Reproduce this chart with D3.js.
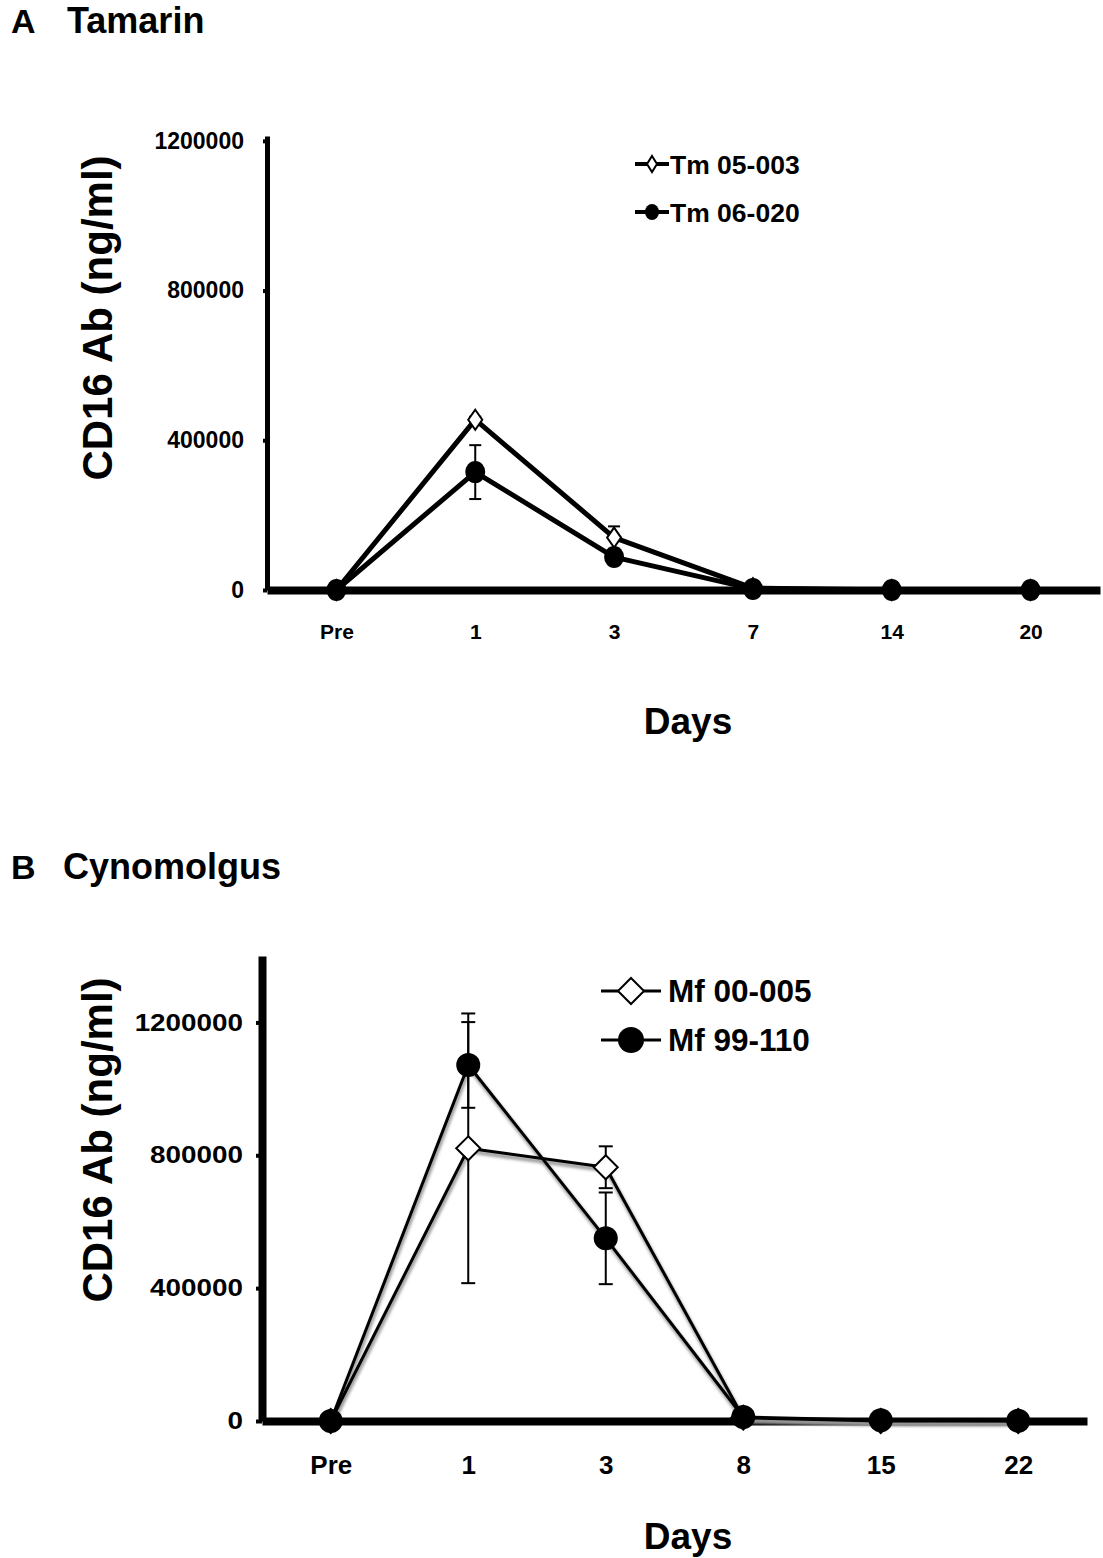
<html>
<head>
  <title>CD16 Ab</title>
  <script src="https://cdn.jsdelivr.net/npm/d3@7"></script>
  <style>
    body { margin: 0; background: #fff; }
    text { font-family: "Liberation Sans", Arial, sans-serif; font-weight: bold; fill: #000; }
  </style>
</head>
<body>
<script>
// Panel A - Tamarin
const daysA = ["Pre", "1", "3", "7", "14", "20"];
const tm05003 = [0, 455000, 140000, 5000, 0, 0];
const tm05003Err = [0, 8000, 30000, 0, 0, 0];
const tm06020 = [0, 315000, 88000, 3000, 0, 0];
const tm06020Err = [0, 72000, 0, 0, 0, 0];

// Panel B - Cynomolgus
const daysB = ["Pre", "1", "3", "8", "15", "22"];
const mf00005 = [0, 821000, 764000, 10000, 0, 0];
const mf00005Err = [0, 406000, 63000, 0, 0, 0];
const mf99110 = [0, 1072000, 550000, 12000, 2000, 1000];
const mf99110Err = [0, 129000, 138000, 0, 0, 0];

const yTicks = [0, 400000, 800000, 1200000];

const w = 1103, h = 1558;
const svg = d3.select("body").append("svg").attr("width", w).attr("height", h);

const defs = svg.append("defs");
defs.append("filter").attr("id", "blur").append("feGaussianBlur").attr("stdDeviation", 1.5);

function panel(o) {
  const g = svg.append("g");

  // titel
  g.append("text").attr("x", o.letterX).attr("y", o.titleY).attr("font-size", 34).text(o.letter);
  g.append("text").attr("x", o.titleX).attr("y", o.titleY).attr("font-size", 36).text(o.title);

  const x = d3.scalePoint().domain(o.days).range([o.x0, o.x1]).padding(0.5);
  const y = d3.scaleLinear().domain([0, o.yMax]).range([o.y0, o.yTop]);

  // y-akse
  const yAxis = d3.axisLeft(y).tickValues(yTicks).tickFormat(d3.format("d"))
    .tickSizeInner(o.tick).tickSizeOuter(0).tickPadding(o.yPad);
  const ya = g.append("g").attr("transform", "translate(" + o.x0 + ",0)").call(yAxis);
  ya.select(".domain").attr("stroke-width", o.yAxisW);
  ya.selectAll(".tick line").attr("stroke-width", 4);
  ya.selectAll(".tick text").attr("font-size", o.yFont).attr("font-family", "Liberation Sans, Arial")
    .attr("transform", "scale(" + o.yStretch + ",1)")
    .attr("x", -(o.tick + o.yPad) / o.yStretch);

  // x-akse
  const xAxis = d3.axisBottom(x).tickSize(0).tickPadding(o.xPad);
  const xa = g.append("g").attr("transform", "translate(0," + o.y0 + ")").call(xAxis);
  xa.select(".domain").attr("stroke-width", 8);
  xa.selectAll(".tick text").attr("font-size", o.xFont).attr("font-family", "Liberation Sans, Arial");

  // akse titler
  g.append("text").attr("transform", "translate(" + o.yTitleX + "," + o.yTitleY + ") rotate(-90)")
    .attr("text-anchor", "middle").attr("font-size", 42).text("CD16 Ab (ng/ml)");
  g.append("text").attr("x", 688).attr("y", o.daysY).attr("text-anchor", "middle")
    .attr("font-size", 37).text("Days");

  const line = d3.line().x((d, i) => x(o.days[i])).y(d => y(d));

  // skygge i B
  if (o.shadow) {
    o.series.forEach(s => {
      g.append("path").datum(s.values).attr("d", line).attr("fill", "none")
        .attr("stroke", "#999").attr("stroke-width", o.lineW + 1)
        .attr("transform", "translate(1,3)").attr("filter", "url(#blur)");
    });
  }

  o.series.forEach(s => {
    g.append("path").datum(s.values).attr("d", line).attr("fill", "none")
      .attr("stroke", "#000").attr("stroke-width", o.lineW).attr("stroke-linejoin", "round");
  });

  // fejlbarer
  o.series.forEach(s => {
    s.values.forEach((v, i) => {
      const e = s.err[i];
      if (!e) return;
      const cx = x(o.days[i]);
      g.append("line").attr("x1", cx).attr("x2", cx).attr("y1", y(v - e)).attr("y2", y(v + e))
        .attr("stroke", "#000").attr("stroke-width", 2);
      [v - e, v + e].forEach(t => {
        g.append("line").attr("x1", cx - o.cap).attr("x2", cx + o.cap).attr("y1", y(t)).attr("y2", y(t))
          .attr("stroke", "#000").attr("stroke-width", 2);
      });
    });
  });

  // markører
  o.series.forEach(s => {
    s.values.forEach((v, i) => drawMarker(g, s.shape, x(o.days[i]), y(v), o));
  });

  // legende
  o.series.forEach((s, k) => {
    const ly = o.legY + k * o.legStep;
    g.append("line").attr("x1", o.legX).attr("x2", o.legX + o.legLen).attr("y1", ly).attr("y2", ly)
      .attr("stroke", "#000").attr("stroke-width", o.legLineW);
    drawMarker(g, s.shape, o.legX + o.legLen / 2, ly, o.legMarker);
    g.append("text").attr("x", o.legX + o.legLen + o.legGap).attr("y", ly + o.legFont * 0.36)
      .attr("font-size", o.legFont).text(s.name);
  });
}

function drawMarker(g, shape, cx, cy, m) {
  if (shape === "circle") {
    g.append("ellipse").attr("cx", cx).attr("cy", cy).attr("rx", m.cr).attr("ry", m.cry)
      .attr("fill", "#000");
  } else {
    const dw = m.dw, dh = m.dh;
    g.append("path").attr("d", "M" + cx + "," + (cy - dh) + "L" + (cx + dw) + "," + cy +
      "L" + cx + "," + (cy + dh) + "L" + (cx - dw) + "," + cy + "Z")
      .attr("fill", "#fff").attr("stroke", "#000").attr("stroke-width", 2);
  }
}

panel({
  letter: "A", title: "Tamarin", letterX: 11, titleX: 67, titleY: 33,
  days: daysA, x0: 267, x1: 1100, y0: 590, yTop: 136, yMax: 1213000,
  tick: 4, yPad: 19, yAxisW: 5, yFont: 23, yStretch: 1.0, xFont: 21, xPad: 34,
  yTitleX: 112, yTitleY: 318, daysY: 734,
  lineW: 5, cap: 6, cr: 10, cry: 11, dw: 7, dh: 10, shadow: false,
  legX: 635, legY: 164, legStep: 48, legLen: 34, legLineW: 4, legFont: 26.5, legGap: 1,
  legMarker: { cr: 7, cry: 8, dw: 5, dh: 8 },
  series: [
    { name: "Tm 05-003", shape: "diamond", values: tm05003, err: tm05003Err },
    { name: "Tm 06-020", shape: "circle", values: tm06020, err: tm06020Err }
  ]
});

panel({
  letter: "B", title: "Cynomolgus", letterX: 11, titleX: 63, titleY: 879,
  days: daysB, x0: 262, x1: 1087, y0: 1421, yTop: 956, yMax: 1400000,
  tick: 6, yPad: 13, yAxisW: 8, yFont: 24, yStretch: 1.16, xFont: 26, xPad: 35,
  yTitleX: 112, yTitleY: 1140, daysY: 1549,
  lineW: 3, cap: 7, cr: 12, cry: 12, dw: 12, dh: 12, shadow: true,
  legX: 601, legY: 991, legStep: 49, legLen: 60, legLineW: 3, legFont: 31.5, legGap: 7,
  legMarker: { cr: 13, cry: 13, dw: 13, dh: 13 },
  series: [
    { name: "Mf 00-005", shape: "diamond", values: mf00005, err: mf00005Err },
    { name: "Mf 99-110", shape: "circle", values: mf99110, err: mf99110Err }
  ]
});
</script>
</body>
</html>
